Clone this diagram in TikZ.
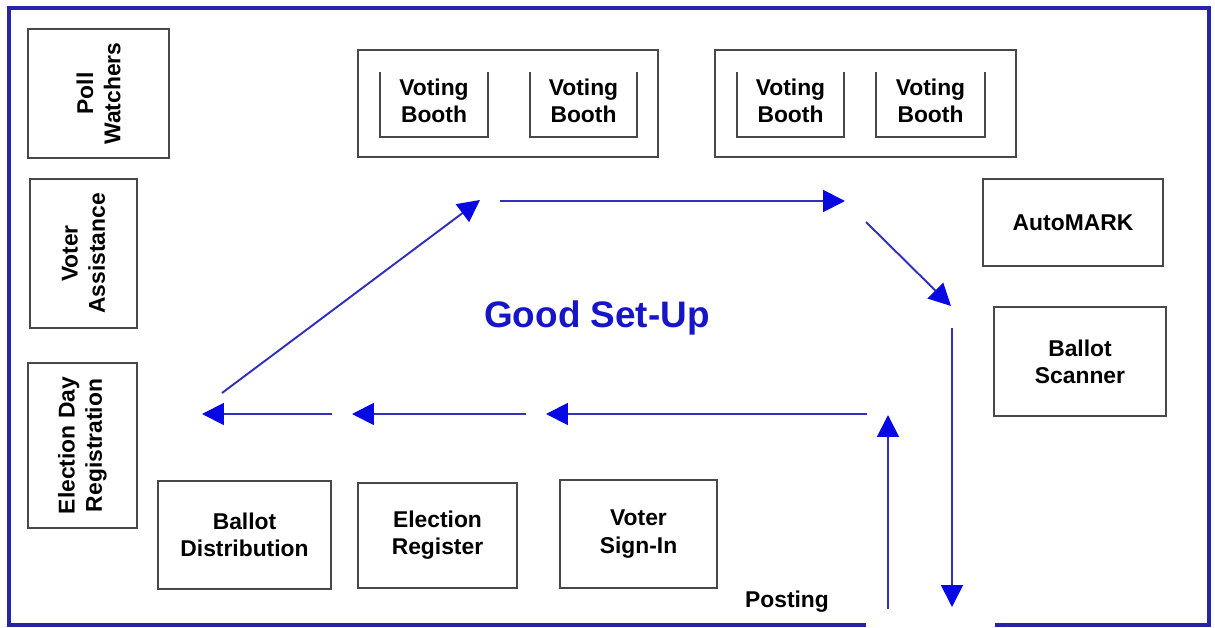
\documentclass[tikz,border=0pt]{standalone}
\usepackage{fontspec}
\setmainfont{Liberation Sans}
\usepackage{tikz}
\usetikzlibrary{arrows.meta}
\usetikzlibrary{calc}

\definecolor{framecol}{RGB}{40,36,170}
\definecolor{flowcol}{RGB}{48,48,185}
\definecolor{headcol}{RGB}{8,8,228}
\definecolor{boxcol}{RGB}{72,72,72}
\definecolor{titlecol}{RGB}{22,22,200}

\tikzset{
  station/.style={draw=boxcol, line width=1pt, align=center, inner sep=0pt,
    font=\bfseries\fontsize{13}{15.5}\selectfont},
  boothtext/.style={align=center, inner sep=0pt, font=\bfseries\fontsize{13}{15.5}\selectfont},
  boothwall/.style={draw=boxcol, line width=1pt},
  flow/.style={draw=flowcol, line width=1.1pt, -{Triangle[length=0.44cm,width=0.44cm,color=headcol]}},
}

\begin{document}
\begin{tikzpicture}[x=0.02cm, y=-0.02cm]

\useasboundingbox (0,0) rectangle (1215,628);

\draw[framecol, line width=2.1pt] (866,625) -- (9,625) -- (9,8) -- (1209,8) -- (1209,625) -- (995,625);

\node[station, rotate=90, minimum width=2.58cm, minimum height=2.82cm] (poll) at (98.5,93.5) {Poll\\Watchers};
\node[station, rotate=90, minimum width=2.98cm, minimum height=2.14cm] (assist) at (83.5,253.5) {Voter\\Assistance};
\node[station, rotate=90, minimum width=3.3cm, minimum height=2.18cm] (edr) at (82.5,445.5) {Election Day\\Registration};

\node[station, minimum width=6cm, minimum height=2.14cm] (group1) at (508,103.5) {};
\node[station, minimum width=6.02cm, minimum height=2.14cm] (group2) at (865.5,103.5) {};

\node[boothtext, minimum width=2.14cm, minimum height=1.3cm] (booth1) at (434,100.5) {Voting\\Booth};
\node[boothtext, minimum width=2.14cm, minimum height=1.3cm] (booth2) at (583.5,100.5) {Voting\\Booth};
\node[boothtext, minimum width=2.14cm, minimum height=1.3cm] (booth3) at (790.5,100.5) {Voting\\Booth};
\node[boothtext, minimum width=2.18cm, minimum height=1.3cm] (booth4) at (930.5,100.5) {Voting\\Booth};
\foreach \b in {booth1,booth2,booth3,booth4}
  \draw[boothwall] ($(\b.north west)+(0,4)$) -- ($(\b.south west)+(0,4)$) -- ($(\b.south east)+(0,4)$) -- ($(\b.north east)+(0,4)$);

\node[station, minimum width=3.6cm, minimum height=1.74cm] (automark) at (1073,222.5) {AutoMARK};
\node[station, minimum width=3.44cm, minimum height=2.18cm] (scanner) at (1080,361.5) {Ballot\\Scanner};

\node[station, minimum width=3.46cm, minimum height=2.16cm] (distrib) at (244.5,535) {Ballot\\Distribution};
\node[station, minimum width=3.18cm, minimum height=2.1cm] (register) at (437.5,535.5) {Election\\Register};
\node[station, minimum width=3.14cm, minimum height=2.16cm] (signin) at (638.5,534) {Voter\\Sign-In};

\node[boothtext] (posting) at (787,602) {Posting};
\node[font=\bfseries\fontsize{21}{25}\selectfont, text=titlecol] (title) at (597,318) {Good Set-Up};

\coordinate (edrout) at (222,393);
\coordinate (boothin) at (480,200);
\coordinate (aislestart) at (500,201);
\coordinate (aisleend) at (845,201);
\coordinate (markstart) at (866,222);
\coordinate (markend) at (951,306);
\coordinate (scanstart) at (952,328);
\coordinate (scanend) at (952,607);
\coordinate (postbottom) at (888,609);
\coordinate (posttop) at (888,415);
\coordinate (queue1) at (867,414);
\coordinate (signinq) at (546,414);
\coordinate (queue2) at (526,414);
\coordinate (registerq) at (352,414);
\coordinate (queue3) at (332,414);
\coordinate (distribq) at (202,414);

\draw[flow] (queue1) -- (signinq);
\draw[flow] (queue2) -- (registerq);
\draw[flow] (queue3) -- (distribq);
\draw[flow] (edrout) -- (boothin);
\draw[flow] (aislestart) -- (aisleend);
\draw[flow] (markstart) -- (markend);
\draw[flow] (scanstart) -- (scanend);
\draw[flow] (postbottom) -- (posttop);

\end{tikzpicture}
\end{document}
